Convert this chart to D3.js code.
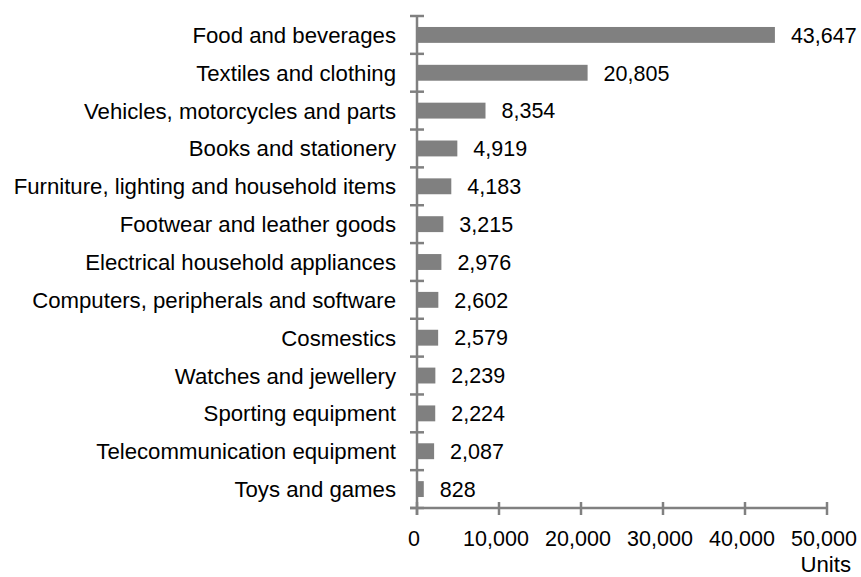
<!DOCTYPE html>
<html>
<head>
<meta charset="utf-8">
<script src="https://cdn.jsdelivr.net/npm/d3@7"></script>
<style>
  html, body { margin: 0; padding: 0; background: #fff; }
  svg text { font-family: "Liberation Sans", Arial, sans-serif; fill: #000; }
</style>
</head>
<body>
<svg id="chart" width="861" height="577"></svg>
<script>
// Retail categories and units, largest first
const categories = [
  "Food and beverages",
  "Textiles and clothing",
  "Vehicles, motorcycles and parts",
  "Books and stationery",
  "Furniture, lighting and household items",
  "Footwear and leather goods",
  "Electrical household appliances",
  "Computers, peripherals and software",
  "Cosmestics",
  "Watches and jewellery",
  "Sporting equipment",
  "Telecommunication equipment",
  "Toys and games"
];
const units = [43647, 20805, 8354, 4919, 4183, 3215, 2976, 2602, 2579, 2239, 2224, 2087, 828];
const xTicks = [0, 10000, 20000, 30000, 40000, 50000];
const xTitle = "Units";

const svg = d3.select("#chart");
const axisColor = "#808080";
const barColor = "#808080";
const labelSize = 22.2;
const numberSize = 21.5;

const plotLeft = 417, plotRight = 827, plotTop = 16, plotBottom = 508;

const x = d3.scaleLinear().domain([0, 50000]).range([plotLeft, plotRight]);
const y = d3.scaleBand().domain(categories).range([plotTop, plotBottom])
  .paddingInner(0.58).paddingOuter(0.29);
// boundaries between category bands
const yEdge = d3.scaleLinear().domain([0, categories.length]).range([plotTop, plotBottom]);

const fmt = d3.format(",");

// bars
svg.append("g").selectAll("rect")
  .data(categories)
  .join("rect")
  .attr("x", x(0) + 1)
  .attr("y", d => y(d))
  .attr("width", (d, i) => x(units[i]) - x(0) - 1)
  .attr("height", y.bandwidth())
  .attr("fill", barColor);

// value labels
svg.append("g").selectAll("text")
  .data(categories)
  .join("text")
  .attr("x", (d, i) => x(units[i]) + 16)
  .attr("y", d => y(d) + y.bandwidth() / 2)
  .attr("dy", "0.36em")
  .attr("font-size", numberSize)
  .text((d, i) => fmt(units[i]));

// category labels
svg.append("g").selectAll("text")
  .data(categories)
  .join("text")
  .attr("x", 396)
  .attr("y", d => y(d) + y.bandwidth() / 2)
  .attr("dy", "0.36em")
  .attr("text-anchor", "end")
  .attr("font-size", labelSize)
  .text(d => d);

// vertical axis with crossing ticks at band edges
const yAxis = svg.append("g");
yAxis.append("line")
  .attr("x1", plotLeft).attr("x2", plotLeft)
  .attr("y1", plotTop).attr("y2", plotBottom + 7)
  .attr("stroke", axisColor).attr("stroke-width", 2.5);
yAxis.selectAll("line.tick")
  .data(d3.range(categories.length + 1))
  .join("line")
  .attr("class", "tick")
  .attr("x1", plotLeft - 7).attr("x2", plotLeft + 7)
  .attr("y1", d => yEdge(d)).attr("y2", d => yEdge(d))
  .attr("stroke", axisColor).attr("stroke-width", 2.5);

// horizontal axis
const xAxis = svg.append("g");
xAxis.append("line")
  .attr("x1", plotLeft - 7).attr("x2", plotRight)
  .attr("y1", plotBottom).attr("y2", plotBottom)
  .attr("stroke", axisColor).attr("stroke-width", 2.5);
xAxis.selectAll("line.tick")
  .data(xTicks)
  .join("line")
  .attr("class", "tick")
  .attr("x1", d => x(d)).attr("x2", d => x(d))
  .attr("y1", plotBottom - 6).attr("y2", plotBottom + 7)
  .attr("stroke", axisColor).attr("stroke-width", 2.5);
xAxis.selectAll("text")
  .data(xTicks)
  .join("text")
  .attr("x", d => x(d) - 3)
  .attr("y", 546)
  .attr("text-anchor", "middle")
  .attr("font-size", numberSize)
  .text(d => fmt(d));

svg.append("text")
  .attr("x", 851)
  .attr("y", 572)
  .attr("text-anchor", "end")
  .attr("font-size", labelSize)
  .text(xTitle);
</script>
</body>
</html>
